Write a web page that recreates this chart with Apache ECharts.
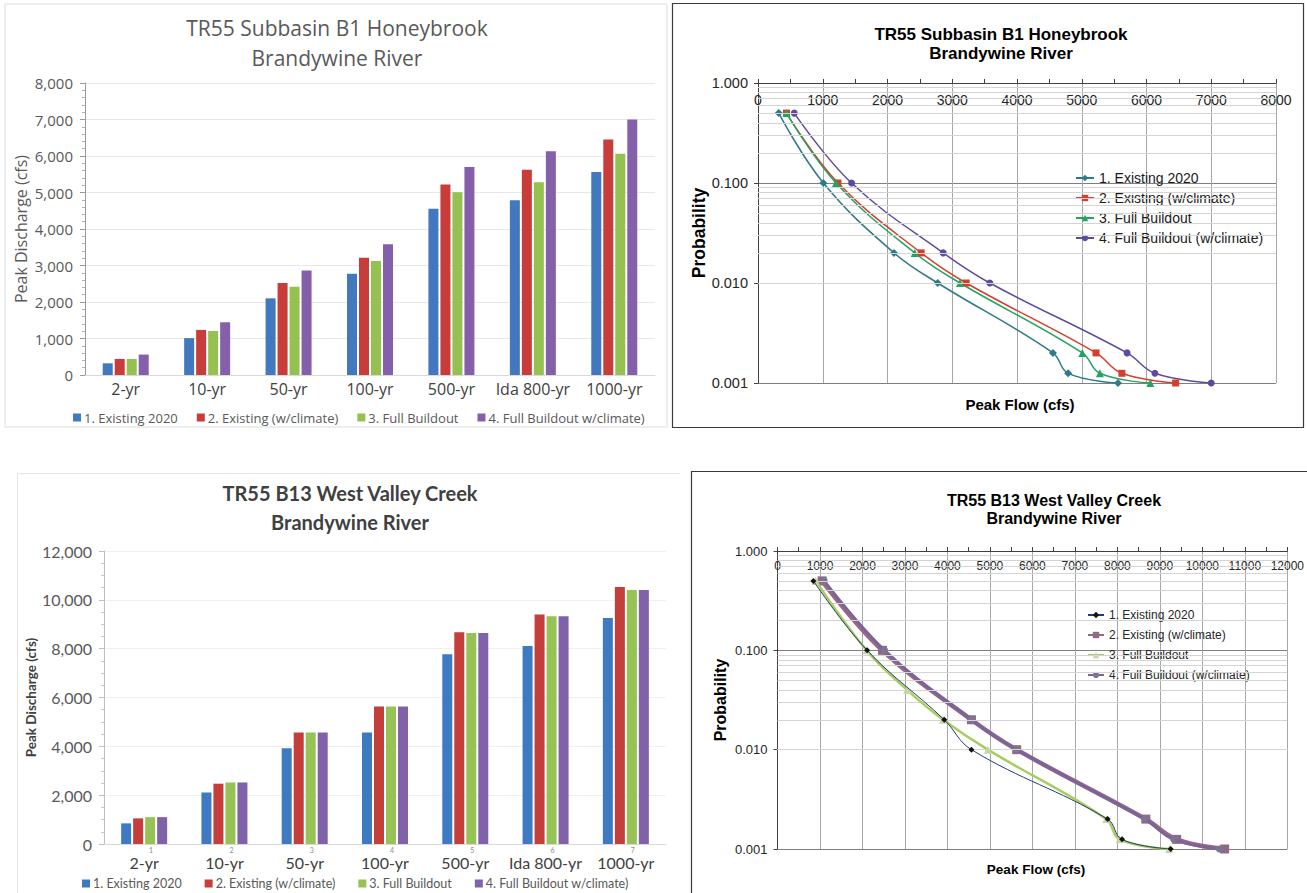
<!DOCTYPE html>
<html>
<head>
<meta charset="utf-8">
<title>TR55 Peak Discharge – Brandywine River</title>
<script src="https://cdn.jsdelivr.net/npm/echarts@6/dist/echarts.min.js"></script>
<style>
  html, body { margin: 0; padding: 0; background: #ffffff; }
  #chart { width: 1307px; height: 893px; }
</style>
</head>
<body>
<div id="chart"></div>
<script>
// ---- Return periods and their annual exceedance probabilities ----
const returnPeriods = ['2-yr', '10-yr', '50-yr', '100-yr', '500-yr', 'Ida 800-yr', '1000-yr'];
const exceedanceProb = [0.5, 0.1, 0.02, 0.01, 0.002, 0.00125, 0.001];

// ---- Scenario names ----
const barScenarios = ['1. Existing 2020', '2. Existing (w/climate)', '3. Full Buildout', '4. Full Buildout w/climate)'];
const curveScenarios = ['1. Existing 2020', '2. Existing (w/climate)', '3. Full Buildout', '4. Full Buildout (w/climate)'];

// ---- Subbasin B1 Honeybrook, peak discharge (cfs) ----
const b1Existing        = [320, 1010, 2100, 2775, 4555, 4790, 5560];
const b1ExistingClimate = [440, 1235, 2520, 3215, 5220, 5620, 6450];
const b1Buildout        = [440, 1205, 2420, 3120, 5010, 5280, 6060];
const b1BuildoutClimate = [560, 1445, 2860, 3580, 5700, 6130, 7000];

// ---- B13 West Valley Creek, peak discharge (cfs) ----
const b13Existing        = [845, 2110, 3925, 4565, 7770, 8110, 9255];
const b13ExistingClimate = [1050, 2470, 4565, 5630, 8670, 9395, 10525];
const b13Buildout        = [1100, 2520, 4565, 5630, 8645, 9325, 10400];
const b13BuildoutClimate = [1100, 2520, 4565, 5630, 8645, 9325, 10400];

// B13 frequency curve for Full Buildout (plotted points of its own)
const b13CurveBuildoutFlow = [900, 2100, 3050, 3900, 4950, 7740, 8050, 9220];
const b13CurveBuildoutProb = [0.5, 0.1, 0.04, 0.02, 0.01, 0.002, 0.00125, 0.001];

// ---- Axis tick settings ----
const minorProbLevels = [0.002, 0.003, 0.004, 0.005, 0.006, 0.007, 0.008, 0.009,
                         0.02, 0.03, 0.04, 0.05, 0.06, 0.07, 0.08, 0.09,
                         0.2, 0.3, 0.4, 0.5, 0.6, 0.7, 0.8, 0.9];

// ---- Fonts & colours ----
const FONT_TL = '"Open Sans", "Noto Sans", sans-serif';
const FONT_BL = 'Lato, "Open Sans", sans-serif';
const FONT_R  = '"Liberation Sans", Arial, sans-serif';

const barColorsB1  = ['#4178BE', '#C83C3A', '#95C150', '#8460AA'];
const barColorsB13 = ['#3E7AC2', '#C43E3B', '#97C356', '#8062A8'];
const curveColorsB1 = ['#2D7A8A', '#D43F2C', '#23A462', '#5E4BA0'];

// Series names carry a panel prefix so each legend picks its own series.
const tag = (p, n) => p + '|' + n;
const untag = n => n.split('|')[1];
const pairs = (xs, ps) => xs.map((x, i) => [x, ps[i]]);
const plainNumber = v => String(Math.round(v));
const thousands = v => v.toLocaleString('en-US');
const probLabel = v => Number(v).toFixed(3);

const chart = echarts.init(document.getElementById('chart'), null, { renderer: 'svg' });

function barSeries(prefix, names, valuesList, colors, axisIdx) {
  return valuesList.map((vals, k) => ({
    name: tag(prefix, names[k]),
    type: 'bar',
    xAxisIndex: axisIdx, yAxisIndex: axisIdx,
    data: vals,
    barWidth: 10,
    barGap: '20%',
    itemStyle: { color: colors[k] }
  }));
}

function minorGridSeries(axisIdx) {
  return {
    name: 'minor-grid-' + axisIdx,
    type: 'line',
    xAxisIndex: axisIdx, yAxisIndex: axisIdx,
    data: [],
    z: 1,
    silent: true,
    markLine: {
      silent: true,
      symbol: ['none', 'none'],
      label: { show: false },
      lineStyle: { color: '#d4d4d4', type: 'solid', width: 1 },
      emphasis: { disabled: true },
      data: minorProbLevels.map(v => ({ yAxis: v }))
    }
  };
}

function flowAxis(gridIndex, max, fontSize, margin) {
  return {
    gridIndex, type: 'value', position: 'top', min: 0, max, interval: 1000,
    axisLine: { lineStyle: { color: '#404040' } },
    axisTick: { length: 4, lineStyle: { color: '#404040' } },
    minorTick: { show: true, splitNumber: 2, length: 4, lineStyle: { color: '#404040' } },
    axisLabel: { inside: true, margin, fontFamily: FONT_R, fontSize, color: '#262626',
                 formatter: plainNumber },
    splitLine: { show: true, lineStyle: { color: '#a6a6a6', width: 1 } }
  };
}

function probAxis(gridIndex, fontSize, nameSize, nameGap) {
  return {
    gridIndex, type: 'log', logBase: 10, min: 0.001, max: 1,
    axisLine: { show: true, lineStyle: { color: '#404040' } },
    axisTick: { show: true, length: 4, lineStyle: { color: '#404040' } },
    axisLabel: { margin: 10, fontFamily: FONT_R, fontSize, color: '#262626', formatter: probLabel },
    splitLine: { show: true, lineStyle: { color: '#7f7f7f', width: 1 } },
    name: 'Probability', nameLocation: 'middle', nameGap,
    nameTextStyle: { fontFamily: FONT_R, fontSize: nameSize, fontWeight: 'bold', color: '#000000' }
  };
}

const b1Curves = [b1Existing, b1ExistingClimate, b1Buildout, b1BuildoutClimate];
const b1Symbols = ['diamond', 'rect', 'triangle', 'circle'];
const b1SymbolSizes = [8, 7, 8, 7];

const option = {
  backgroundColor: '#ffffff',
  animation: false,
  grid: [
    { left: 85,    top: 83,  width: 570,   height: 292 },
    { left: 758,   top: 83,  width: 518,   height: 300 },
    { left: 104,   top: 551, width: 562,   height: 293 },
    { left: 777.5, top: 551, width: 519.5, height: 298 }
  ],
  xAxis: [
    {
      gridIndex: 0, type: 'category', data: returnPeriods,
      axisLine: { lineStyle: { color: '#d9d9d9' } },
      axisTick: { show: false },
      axisLabel: { interval: 0, margin: 6, fontFamily: FONT_TL, fontSize: 16, color: '#404040' }
    },
    flowAxis(1, 8000, 14, 10),
    {
      gridIndex: 2, type: 'category', data: returnPeriods,
      axisLine: { lineStyle: { color: '#d9d9d9' } },
      axisTick: { show: false },
      axisLabel: {
        interval: 0, margin: 2,
        formatter: (v, i) => '{n|' + (i + 1) + '}\n{c|' + v + '}',
        rich: {
          n: { fontSize: 7, lineHeight: 7, color: '#8c8c8c', fontFamily: FONT_BL, padding: [0, 0, 0, 14] },
          c: { fontSize: 16, lineHeight: 19, color: '#404040', fontFamily: FONT_BL }
        }
      }
    },
    flowAxis(3, 12000, 12, 9)
  ],
  yAxis: [
    {
      gridIndex: 0, type: 'value', min: 0, max: 8000, interval: 1000,
      axisLine: { show: true, lineStyle: { color: '#9a9a9a' } },
      axisTick: { show: true, length: 5, lineStyle: { color: '#9a9a9a' } },
      minorTick: { show: true, splitNumber: 5, length: 3, lineStyle: { color: '#b0b0b0' } },
      axisLabel: { margin: 12, fontFamily: FONT_TL, fontSize: 15, color: '#595959', formatter: thousands },
      splitLine: { show: true, lineStyle: { color: '#e8e8e8' } },
      name: 'Peak Discharge (cfs)', nameLocation: 'middle', nameGap: 56,
      nameTextStyle: { fontFamily: FONT_TL, fontSize: 16, color: '#595959' }
    },
    probAxis(1, 14.5, 17.5, 50),
    {
      gridIndex: 2, type: 'value', min: 0, max: 12000, interval: 2000,
      axisLine: { show: true, lineStyle: { color: '#bfbfbf' } },
      axisTick: { show: true, length: 5, lineStyle: { color: '#bfbfbf' } },
      minorTick: { show: true, splitNumber: 4, length: 3, lineStyle: { color: '#c8c8c8' } },
      axisLabel: { margin: 12, fontFamily: FONT_BL, fontSize: 16, color: '#595959', formatter: thousands },
      splitLine: { show: true, lineStyle: { color: '#f0f0f0' } },
      name: 'Peak Discharge (cfs)', nameLocation: 'middle', nameGap: 59,
      nameTextStyle: { fontFamily: FONT_BL, fontSize: 13.5, fontWeight: 'bold', color: '#404040' }
    },
    probAxis(3, 13, 16, 49)
  ],
  legend: [
    {
      left: 68, top: 406, orient: 'horizontal',
      icon: 'rect', itemWidth: 8, itemHeight: 8, itemGap: 19,
      selectedMode: false,
      formatter: untag,
      textStyle: { fontFamily: FONT_TL, fontSize: 13, color: '#595959', padding: [0, 0, 0, -2] },
      data: barScenarios.map(n => tag('b1bar', n))
    },
    {
      left: 1070, top: 166, orient: 'vertical',
      itemWidth: 18, itemHeight: 8, itemGap: 6,
      selectedMode: false,
      formatter: untag,
      textStyle: { fontFamily: FONT_R, fontSize: 14, color: '#1a1a1a' },
      data: curveScenarios.map(n => tag('b1curve', n))
    },
    {
      left: 77, top: 872, orient: 'horizontal',
      icon: 'rect', itemWidth: 8, itemHeight: 8, itemGap: 23,
      selectedMode: false,
      formatter: untag,
      textStyle: { fontFamily: FONT_BL, fontSize: 12.5, color: '#595959', padding: [0, 0, 0, -2] },
      data: barScenarios.map(n => tag('b13bar', n))
    },
    {
      left: 1082, top: 604, orient: 'vertical',
      itemWidth: 16, itemHeight: 8, itemGap: 8,
      selectedMode: false,
      formatter: untag,
      textStyle: { fontFamily: FONT_R, fontSize: 12, color: '#262626' },
      data: curveScenarios.map(n => tag('b13curve', n))
    }
  ],
  series: [
    // Subbasin B1 bars
    ...barSeries('b1bar', barScenarios,
      [b1Existing, b1ExistingClimate, b1Buildout, b1BuildoutClimate], barColorsB1, 0),
    // B13 bars
    ...barSeries('b13bar', barScenarios,
      [b13Existing, b13ExistingClimate, b13Buildout, b13BuildoutClimate], barColorsB13, 2),

    // Minor log grid lines for both frequency plots
    minorGridSeries(1),
    minorGridSeries(3),

    // Subbasin B1 frequency curves
    ...b1Curves.map((vals, k) => ({
      name: tag('b1curve', curveScenarios[k]),
      type: 'line',
      xAxisIndex: 1, yAxisIndex: 1,
      data: pairs(vals, exceedanceProb),
      smooth: 0.4,
      symbol: b1Symbols[k],
      symbolSize: b1SymbolSizes[k],
      showAllSymbol: true,
      z: 3,
      lineStyle: { color: curveColorsB1[k], width: 1.5 },
      itemStyle: { color: curveColorsB1[k] }
    })),

    // B13 frequency curves
    {
      name: tag('b13curve', curveScenarios[0]),
      type: 'line', xAxisIndex: 3, yAxisIndex: 3,
      data: pairs(b13Existing, exceedanceProb),
      smooth: 0.4, symbol: 'diamond', symbolSize: 6, z: 6,
      lineStyle: { color: '#1F3F74', width: 1 },
      itemStyle: { color: '#111111' }
    },
    {
      name: tag('b13curve', curveScenarios[1]),
      type: 'line', xAxisIndex: 3, yAxisIndex: 3,
      data: pairs(b13ExistingClimate, exceedanceProb),
      smooth: 0.4, symbol: 'rect', symbolSize: 9, z: 3,
      lineStyle: { color: '#9C6880', width: 4.5 },
      itemStyle: { color: '#8E6A86' }
    },
    {
      name: tag('b13curve', curveScenarios[2]),
      type: 'line', xAxisIndex: 3, yAxisIndex: 3,
      data: pairs(b13CurveBuildoutFlow, b13CurveBuildoutProb),
      smooth: 0.4, symbol: 'triangle', symbolSize: 8, z: 5,
      lineStyle: { color: '#A9CC5E', width: 2.5 },
      itemStyle: { color: '#C4D6A2' }
    },
    {
      name: tag('b13curve', curveScenarios[3]),
      type: 'line', xAxisIndex: 3, yAxisIndex: 3,
      data: pairs(b13BuildoutClimate, exceedanceProb),
      smooth: 0.4, symbol: 'circle', symbolSize: 7, z: 4,
      lineStyle: { color: '#79659A', width: 3 },
      itemStyle: { color: '#7E7492' }
    }
  ],
  graphic: [
    // panel frames
    { type: 'rect', z: -10, silent: true, shape: { x: 5, y: 4, width: 662, height: 423 },
      style: { fill: 'none', stroke: '#dcdcdc', lineWidth: 1 } },
    { type: 'rect', z: -10, silent: true, shape: { x: 672.5, y: 3.5, width: 631, height: 424 },
      style: { fill: 'none', stroke: '#3a3a3a', lineWidth: 1.2 } },
    { type: 'polyline', z: -10, silent: true, shape: { points: [[17.5, 893], [17.5, 473.5], [680, 473.5]] },
      style: { fill: 'none', stroke: '#e4e4e4', lineWidth: 1 } },
    { type: 'polyline', z: -10, silent: true, shape: { points: [[691.5, 893], [691.5, 471.5], [1307, 471.5]] },
      style: { fill: 'none', stroke: '#3a3a3a', lineWidth: 1.2 } },

    // panel titles
    { type: 'text', x: 337, y: 28, silent: true,
      style: { text: 'TR55 Subbasin B1 Honeybrook', align: 'center', verticalAlign: 'middle',
               font: '21px ' + FONT_TL, fill: '#595959' } },
    { type: 'text', x: 337, y: 58, silent: true,
      style: { text: 'Brandywine River', align: 'center', verticalAlign: 'middle',
               font: '21px ' + FONT_TL, fill: '#595959' } },

    { type: 'text', x: 1001, y: 34, silent: true,
      style: { text: 'TR55 Subbasin B1 Honeybrook', align: 'center', verticalAlign: 'middle',
               font: 'bold 17px ' + FONT_R, fill: '#000000' } },
    { type: 'text', x: 1001, y: 53, silent: true,
      style: { text: 'Brandywine River', align: 'center', verticalAlign: 'middle',
               font: 'bold 17px ' + FONT_R, fill: '#000000' } },
    { type: 'text', x: 1020, y: 404, silent: true,
      style: { text: 'Peak Flow (cfs)', align: 'center', verticalAlign: 'middle',
               font: 'bold 15px ' + FONT_R, fill: '#000000' } },

    { type: 'text', x: 350, y: 493, silent: true,
      style: { text: 'TR55 B13 West Valley Creek', align: 'center', verticalAlign: 'middle',
               font: 'bold 20px ' + FONT_BL, fill: '#404040' } },
    { type: 'text', x: 350, y: 522, silent: true,
      style: { text: 'Brandywine River', align: 'center', verticalAlign: 'middle',
               font: 'bold 20px ' + FONT_BL, fill: '#404040' } },

    { type: 'text', x: 1054, y: 500, silent: true,
      style: { text: 'TR55 B13 West Valley Creek', align: 'center', verticalAlign: 'middle',
               font: 'bold 16px ' + FONT_R, fill: '#000000' } },
    { type: 'text', x: 1054, y: 518, silent: true,
      style: { text: 'Brandywine River', align: 'center', verticalAlign: 'middle',
               font: 'bold 16px ' + FONT_R, fill: '#000000' } },
    { type: 'text', x: 1036, y: 869, silent: true,
      style: { text: 'Peak Flow (cfs)', align: 'center', verticalAlign: 'middle',
               font: 'bold 13.5px ' + FONT_R, fill: '#000000' } }
  ]
};

chart.setOption(option);
</script>
</body>
</html>
